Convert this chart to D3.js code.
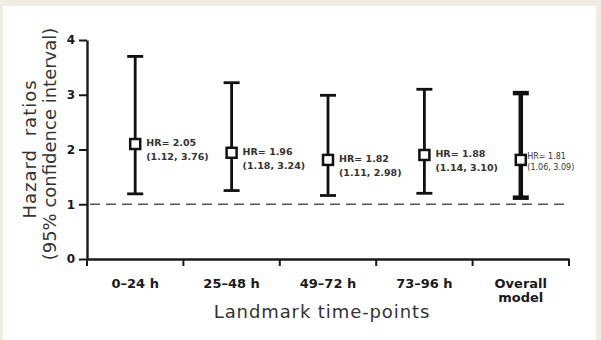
<!DOCTYPE html>
<html>
<head>
<meta charset="utf-8">
<script src="https://cdn.jsdelivr.net/npm/d3@7"></script>
<style>
  html, body { margin: 0; padding: 0; background: #efece1; }
  #chart { width: 601px; height: 340px; }
</style>
</head>
<body>
<div id="chart"></div>
<script>
// values
const categories = ["0–24 h", "25–48 h", "49–72 h", "73–96 h", "Overall model"];
const hr = [2.10, 1.94, 1.81, 1.90, 1.81];
const lower = [1.19, 1.25, 1.16, 1.20, 1.12];
const upper = [3.70, 3.22, 2.99, 3.10, 3.03];
const hrLabels = ["HR= 2.05", "HR= 1.96", "HR= 1.82", "HR= 1.88", "HR= 1.81"];
const ciLabels = ["(1.12, 3.76)", "(1.18, 3.24)", "(1.11, 2.98)", "(1.14, 3.10)", "(1.06, 3.09)"];
const yTicks = [0, 1, 2, 3, 4];
const refValue = 1;

const width = 601, height = 340;
const font = "'DejaVu Sans', sans-serif";

const svg = d3.select("#chart").append("svg")
  .attr("width", width)
  .attr("height", height)
  .attr("viewBox", `0 0 ${width} ${height}`);

// white panel on the beige page
svg.append("rect")
  .attr("x", 3).attr("y", 6)
  .attr("width", 593).attr("height", height - 6)
  .attr("fill", "#fff");

const x = d3.scaleBand().domain(categories).range([87, 569]).padding(0);
const y = d3.scaleLinear().domain([0, 4]).range([259, 40]);

// reference line at HR = 1
svg.append("line")
  .attr("x1", 90).attr("x2", 569)
  .attr("y1", y(refValue)).attr("y2", y(refValue))
  .attr("stroke", "#555")
  .attr("stroke-width", 1.6)
  .attr("stroke-dasharray", "10 6");

// y axis
const yAxis = svg.append("g")
  .attr("transform", "translate(87,0)")
  .call(d3.axisLeft(y).tickValues(yTicks).tickFormat(d3.format("d")).tickSize(8).tickSizeOuter(0).tickPadding(4));
yAxis.select(".domain").attr("stroke", "#1a1a1a").attr("stroke-width", 2.4);
yAxis.selectAll(".tick line").attr("stroke", "#1a1a1a").attr("stroke-width", 2);
yAxis.selectAll(".tick text")
  .attr("font-family", font).attr("font-weight", "bold")
  .attr("font-size", 12).attr("fill", "#1a1a1a");

// x axis: labels at band centres, ticks at band edges
const xAxis = svg.append("g")
  .attr("transform", `translate(0,${y(0)})`)
  .call(d3.axisBottom(x).tickSize(0).tickSizeOuter(0).tickPadding(0));
xAxis.select(".domain").attr("stroke", "#1a1a1a").attr("stroke-width", 2.4);
xAxis.selectAll(".tick text").remove();

const edges = categories.map(c => x(c)).concat([x.range()[1]]);
xAxis.selectAll(".edge")
  .data(edges)
  .join("line")
  .attr("class", "edge")
  .attr("x1", d => d).attr("x2", d => d)
  .attr("y1", 0).attr("y2", 7)
  .attr("stroke", "#1a1a1a")
  .attr("stroke-width", 2);

xAxis.selectAll(".cat")
  .data(categories)
  .join("text")
  .attr("class", "cat")
  .attr("x", d => x(d) + x.bandwidth() / 2)
  .attr("y", 29)
  .attr("text-anchor", "middle")
  .attr("font-family", font).attr("font-weight", "bold")
  .attr("font-size", 13).attr("fill", "#1a1a1a")
  .each(function (d) {
    const words = d === "Overall model" ? ["Overall", "model"] : [d];
    d3.select(this).selectAll("tspan")
      .data(words)
      .join("tspan")
      .attr("x", x(d) + x.bandwidth() / 2)
      .attr("dy", (w, i) => i === 0 ? 0 : 14)
      .text(w => w);
  });

// axis titles
svg.append("text")
  .attr("x", 322).attr("y", 318)
  .attr("text-anchor", "middle")
  .attr("font-family", font).attr("font-size", 18)
  .attr("letter-spacing", 0.9)
  .attr("fill", "#333")
  .text("Landmark time-points");

svg.append("text")
  .attr("transform", "translate(36,149) rotate(-90)")
  .attr("text-anchor", "middle")
  .attr("font-family", font).attr("font-size", 18)
  .attr("letter-spacing", 1).attr("word-spacing", 6)
  .attr("fill", "#333")
  .text("Hazard ratios");

svg.append("text")
  .attr("transform", "translate(56,144) rotate(-90)")
  .attr("text-anchor", "middle")
  .attr("font-family", font).attr("font-size", 18)
  .attr("fill", "#333")
  .text("(95% confidence interval)");

// error bars
const rows = categories.map((c, i) => ({
  cat: c, hr: hr[i], lo: lower[i], hi: upper[i],
  hrLabel: hrLabels[i], ciLabel: ciLabels[i],
  overall: i === categories.length - 1
}));

const marks = svg.append("g").selectAll("g")
  .data(rows)
  .join("g")
  .attr("transform", d => `translate(${x(d.cat) + x.bandwidth() / 2},0)`);

marks.append("line")
  .attr("y1", d => y(d.lo)).attr("y2", d => y(d.hi))
  .attr("stroke", "#111")
  .attr("stroke-width", d => d.overall ? 4.5 : 2.8);

marks.selectAll(".cap")
  .data(d => [d.lo, d.hi].map(v => ({ v, overall: d.overall })))
  .join("line")
  .attr("class", "cap")
  .attr("x1", -8).attr("x2", 8)
  .attr("y1", d => y(d.v)).attr("y2", d => y(d.v))
  .attr("stroke", "#111")
  .attr("stroke-width", d => d.overall ? 4.5 : 2.8);

marks.append("rect")
  .attr("x", -5).attr("y", d => y(d.hr) - 5)
  .attr("width", 10).attr("height", 10)
  .attr("fill", "#fff")
  .attr("stroke", "#111")
  .attr("stroke-width", 2.5);

const labels = marks.append("text")
  .attr("font-family", font)
  .attr("fill", "#333")
  .attr("font-weight", d => d.overall ? "normal" : "bold")
  .attr("font-size", d => d.overall ? 8 : 9.5);

labels.append("tspan")
  .attr("x", d => d.overall ? 6.5 : 11)
  .attr("y", d => y(d.hr) + (d.overall ? -1 : 2))
  .text(d => d.hrLabel);

labels.append("tspan")
  .attr("x", d => d.overall ? 6.5 : 11)
  .attr("y", d => y(d.hr) + (d.overall ? 10 : 16))
  .text(d => d.ciLabel);
</script>
</body>
</html>
